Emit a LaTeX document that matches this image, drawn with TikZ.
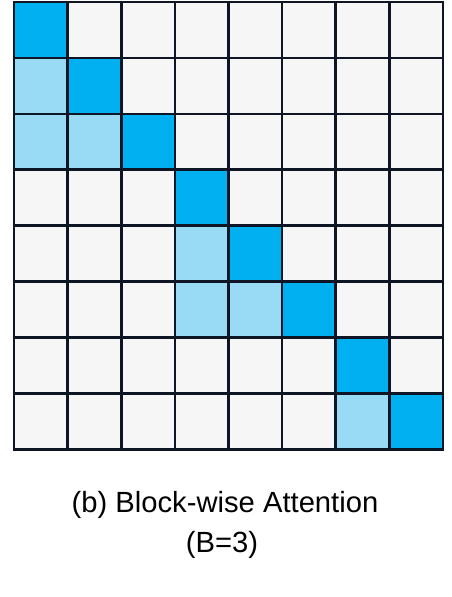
\documentclass[tikz,border=0pt]{standalone}
\usepackage{fontspec}
\setmainfont{Liberation Sans}
\definecolor{darkc}{HTML}{00B0F0}
\definecolor{lightc}{HTML}{99DAF5}
\definecolor{emptyc}{HTML}{F6F6F7}
\definecolor{linec}{HTML}{0E1626}
\begin{document}
\begin{tikzpicture}[x=1pt,y=-1pt,
  cellbox/.style={draw=linec,line width=2.6pt},
  caption/.style={font=\fontsize{29.2}{34}\selectfont,text=black,inner sep=0pt,anchor=base}]
\useasboundingbox (0,0) rectangle (452,597);
\def\cw{53.6}
\def\ch{55.9}
\def\xo{14}
\def\yo{2}
% cell colours: 0 empty, 1 light, 2 dark
\foreach \r/\row in {0/{2,0,0,0,0,0,0,0},1/{1,2,0,0,0,0,0,0},2/{1,1,2,0,0,0,0,0},3/{0,0,0,2,0,0,0,0},4/{0,0,0,1,2,0,0,0},5/{0,0,0,1,1,2,0,0},6/{0,0,0,0,0,0,2,0},7/{0,0,0,0,0,0,1,2}}{
  \foreach \v [count=\c from 0] in \row {
    \ifcase\v \def\fc{emptyc}\or \def\fc{lightc}\else \def\fc{darkc}\fi
    \path[cellbox,fill=\fc] (\xo+\c*\cw,\yo+\r*\ch) rectangle ++(\cw,\ch);
  }
}
\node[caption] (t1) at (225,512) {(b) Block-wise Attention};
\node[caption] (t2) at (222,552) {(B=3)};
\end{tikzpicture}
\end{document}
